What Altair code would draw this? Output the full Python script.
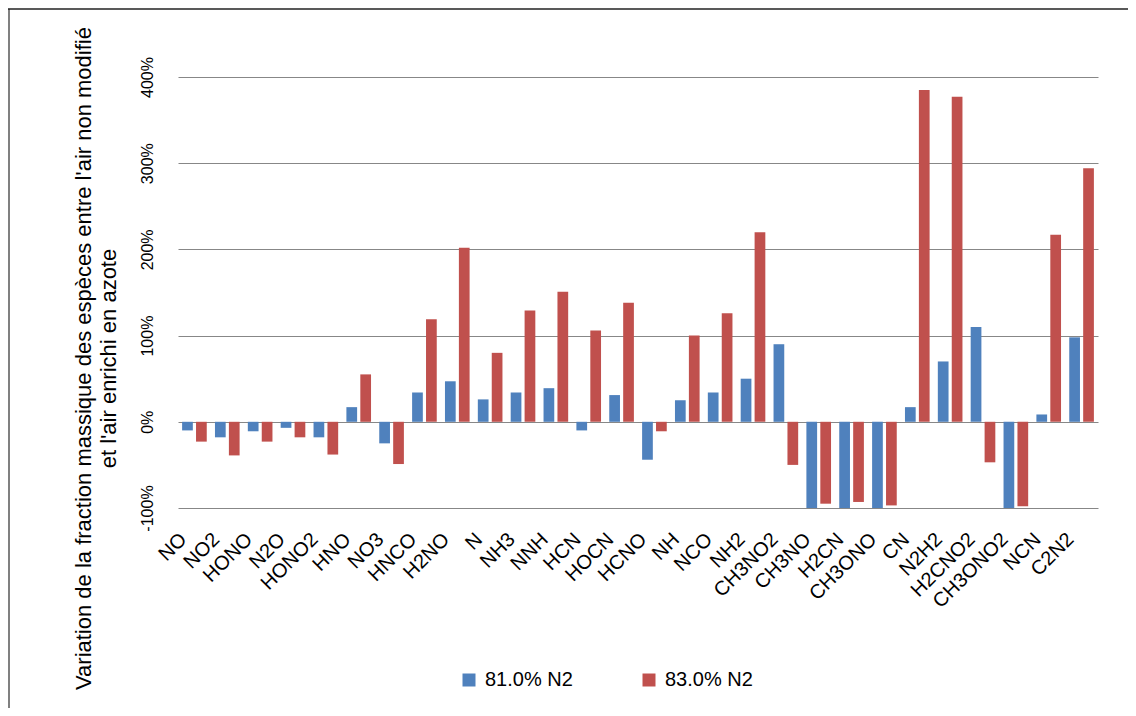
import altair as alt
import pandas as pd

species = ["NO", "NO2", "HONO", "N2O", "HONO2", "HNO", "NO3", "HNCO", "H2NO", "N",
           "NH3", "NNH", "HCN", "HOCN", "HCNO", "NH", "NCO", "NH2", "CH3NO2", "CH3NO",
           "H2CN", "CH3ONO", "CN", "N2H2", "H2CNO2", "CH3ONO2", "NCN", "C2N2"]
series_81 = [-10, -18, -11, -7, -18, 17, -25, 34, 47, 26,
             34, 39, -10, 31, -44, 25, 34, 50, 90, -100,
             -100, -100, 17, 70, 110, -100, 8.5, 98]
series_83 = [-23, -39, -23, -18, -38, 55, -49, 119, 202, 80,
             129, 151, 106, 138, -11, 100, 126, 220, -50, -95,
             -93, -97, 385, 377, -47, -98, 217, 294]
series_names = ["81.0% N2", "83.0% N2"]
series_colors = ["#4F81BD", "#C0504D"]
y_ticks = [-100, 0, 100, 200, 300, 400]
y_title = ["Variation de la fraction massique des espèces entre l'air non modifié",
           "et l'air enrichi en azote"]

rows = []
for i, sp in enumerate(species):
    rows.append({"species": sp, "series": series_names[0], "value": series_81[i]})
    rows.append({"species": sp, "series": series_names[1], "value": series_83[i]})
df = pd.DataFrame(rows)

FONT = "Liberation Sans"

bars = alt.Chart(df).mark_bar().encode(
    x=alt.X("species:N", sort=species,
            scale=alt.Scale(paddingInner=0.25, paddingOuter=0.125),
            axis=alt.Axis(title=None, labelAngle=315, labelAlign="right",
                          labelBaseline="middle", labelPadding=28, labelOffset=-11,
                          labelFontSize=20, labelOverlap=False, labelFlush=False,
                          ticks=False, domain=False, grid=False,
                          labelColor="#000000", labelFont=FONT)),
    xOffset=alt.XOffset("series:N", sort=series_names,
                        scale=alt.Scale(paddingInner=0.23, paddingOuter=0)),
    y=alt.Y("value:Q",
            scale=alt.Scale(domain=[-100, 400], nice=False),
            axis=alt.Axis(values=y_ticks, labelExpr="datum.value + '%'",
                          title=y_title, titleFont=FONT, titleFontSize=22,
                          titleFontWeight="normal", titleColor="#000000",
                          titleAngle=270, titleAlign="center", titleBaseline="middle",
                          titleLineHeight=25, titleX=-95, titleY=281,
                          labelAngle=270, labelAlign="center", labelBaseline="bottom",
                          labelPadding=23, labelFontSize=16, labelFont=FONT,
                          labelColor="#000000", ticks=False, domain=False,
                          grid=True, gridColor="#878787", gridWidth=1)),
    color=alt.Color("series:N", sort=series_names,
                    scale=alt.Scale(domain=series_names, range=series_colors),
                    legend=alt.Legend(title=None, orient="none", legendX=281, legendY=593,
                                      direction="horizontal", symbolType="square",
                                      symbolSize=169, symbolStrokeWidth=0,
                                      labelFontSize=20, labelFont=FONT, labelColor="#000000",
                                      labelOffset=6, columnPadding=66, padding=0)),
)

frame_data = alt.Data(values=[{"k": 1}])
top_line = alt.Chart(frame_data).mark_rule(color="#222222", strokeWidth=1.5).encode(
    x=alt.value(-170), x2=alt.value(958), y=alt.value(-68))
left_line = alt.Chart(frame_data).mark_rule(color="#808080", strokeWidth=2).encode(
    x=alt.value(-169), y=alt.value(-68), y2=alt.value(639))

chart = alt.layer(left_line, top_line, bars).properties(
    width=920, height=431,
    autosize=alt.AutoSizeParams(type="none"),
    padding={"left": 170, "top": 69, "right": 30, "bottom": 200},
    background="white",
).configure_view(stroke=None)

chart.save("out.html", embed_options={"renderer": "svg", "actions": False})
